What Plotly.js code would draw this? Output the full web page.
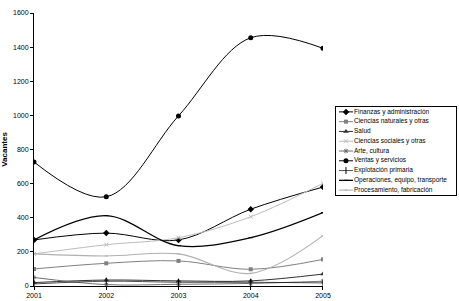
<!DOCTYPE html>
<html>
<head>
<meta charset="utf-8">
<script src="https://cdn.plot.ly/plotly-3.0.1.min.js"></script>
<style>
  body { margin: 0; background: #fff; }
  #chart { width: 459px; height: 301px; }
</style>
</head>
<body>
<div id="chart"></div>
<script>
var years = [2001, 2002, 2003, 2004, 2005];

var finanzas = [270, 310, 270, 450, 580];
var cienciasNaturales = [100, 133, 147, 98, 156];
var salud = [20, 35, 30, 30, 70];
var cienciasSociales = [188, 242, 283, 406, 602];
var arteCultura = [50, 8, 10, 15, 28];
var ventas = [727, 523, 997, 1455, 1393];
var explotacion = [12, 28, 22, 22, 18];
var operaciones = [270, 412, 236, 283, 430];
var procesamiento = [188, 176, 188, 74, 295];

var names = [
    'Finanzas y administración',
    'Ciencias naturales y otras',
    'Salud',
    'Ciencias sociales y otras',
    'Arte, cultura',
    'Ventas y servicios',
    'Explotación primaria',
    'Operaciones, equipo, transporte',
    'Procesamiento, fabricación'
];
var values = [finanzas, cienciasNaturales, salud, cienciasSociales, arteCultura,
    ventas, explotacion, operaciones, procesamiento];

// style per series: colour, line width, marker symbol, marker size, marker outline
var styles = [
    ['#000000', 1, 'diamond', 5, 0],
    ['#808080', 1, 'square', 4, 0],
    ['#333333', 1, 'triangle-up', 5, 0],
    ['#bdbdbd', 1, 'x-thin', 4, 1],
    ['#707070', 1, 'asterisk', 4, 1],
    ['#000000', 1, 'circle', 5, 0],
    ['#000000', 0.7, 'line-ns', 5, 1],
    ['#000000', 1.3, 'line-ew', 3, 1],
    ['#b0b0b0', 1.1, 'line-ew', 2, 1]
];

var data = [];
names.forEach(function (name, i) {
    var s = styles[i];
    data.push({
        x: years,
        y: values[i],
        name: name,
        type: 'scatter',
        mode: 'lines+markers',
        showlegend: false,
        line: { color: s[0], width: s[1], shape: 'spline', smoothing: 1 },
        marker: { color: s[0], symbol: s[2], size: s[3], line: { color: s[0], width: s[4] } }
    });
});

// legend box drawn on its own small axes, Excel style (tight rows)
var rows = names.map(function (n, i) { return 8.5 - i; });
names.forEach(function (name, i) {
    var s = styles[i];
    data.push({
        x: [3, 17], y: [rows[i], rows[i]],
        xaxis: 'x2', yaxis: 'y2', mode: 'lines', showlegend: false, hoverinfo: 'skip',
        line: { color: s[0], width: s[1] }
    });
    data.push({
        x: [10], y: [rows[i]],
        xaxis: 'x2', yaxis: 'y2', mode: 'markers', showlegend: false, hoverinfo: 'skip',
        marker: { color: s[0], symbol: s[2], size: s[3], line: { color: s[0], width: s[4] } }
    });
});
data.push({
    x: names.map(function () { return 18; }),
    y: rows,
    text: names,
    xaxis: 'x2', yaxis: 'y2', mode: 'text', textposition: 'middle right',
    textfont: { size: 6.5, color: '#000' },
    showlegend: false, hoverinfo: 'skip'
});

var layout = {
    width: 459,
    height: 301,
    margin: { l: 34, r: 3, t: 13, b: 15 },
    paper_bgcolor: '#ffffff',
    plot_bgcolor: '#ffffff',
    font: { family: 'Liberation Sans, Arial, sans-serif', size: 7, color: '#000' },
    showlegend: false,
    xaxis: {
        domain: [0, 0.6848],
        range: [2001, 2005],
        tickvals: years,
        ticktext: years.map(String),
        showgrid: false,
        zeroline: false,
        showline: true,
        linecolor: '#000',
        linewidth: 1,
        ticks: 'outside',
        ticklen: 3,
        tickcolor: '#000',
        tickfont: { size: 7 }
    },
    yaxis: {
        range: [0, 1600],
        dtick: 200,
        showgrid: false,
        zeroline: false,
        showline: true,
        linecolor: '#000',
        linewidth: 1,
        ticks: 'outside',
        ticklen: 3,
        tickcolor: '#000',
        tickfont: { size: 7 },
        title: { text: '<b>Vacantes</b>', font: { size: 8 }, standoff: 7 }
    },
    xaxis2: {
        domain: [0.7156, 1.0],
        anchor: 'y2',
        range: [0, 120],
        showgrid: false, zeroline: false, showticklabels: false, ticks: '',
        showline: true, mirror: true, linecolor: '#000', linewidth: 1, fixedrange: true
    },
    yaxis2: {
        domain: [0.3333, 0.6557],
        anchor: 'x2',
        range: [0, 9],
        showgrid: false, zeroline: false, showticklabels: false, ticks: '',
        showline: true, mirror: true, linecolor: '#000', linewidth: 1, fixedrange: true
    }
};

Plotly.newPlot('chart', data, layout, { displayModeBar: false });
</script>
</body>
</html>
